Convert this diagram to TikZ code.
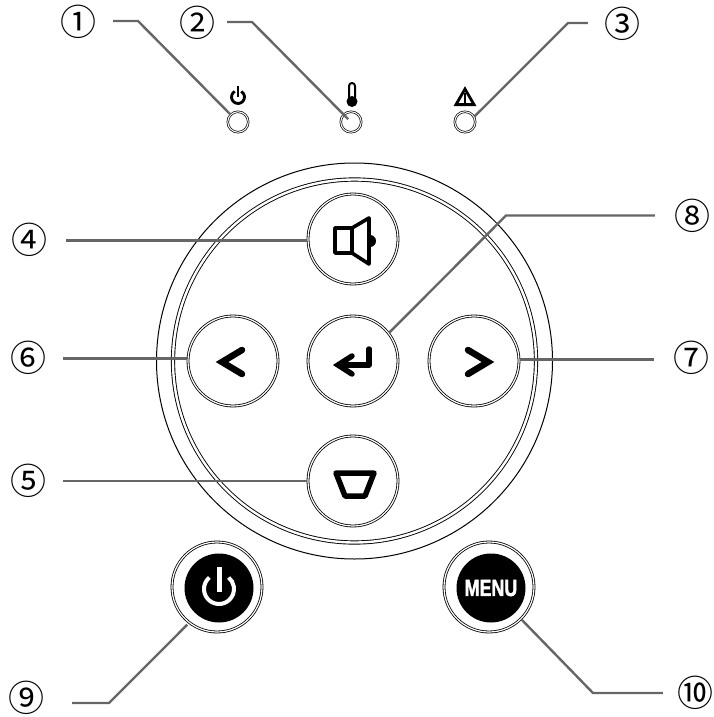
\documentclass[tikz,border=0pt]{standalone}
\usepackage{fontspec}
\setmainfont{Liberation Sans}
\newfontfamily\numfont{Noto Sans CJK JP}
\newfontfamily\menufont[BoldFeatures={FakeBold=2}]{Liberation Sans}
\tikzset{
  leader/.style={draw=black!60,line width=2.4pt},
  numlabel/.style={inner sep=0pt,font=\numfont\fontsize{36}{36}\selectfont},
  btn/.style={circle,draw=black,line width=.8pt,double=white,double distance=1.2pt,minimum size=90pt,inner sep=0pt,outer sep=1pt},
  led/.style={circle,draw=black,line width=.7pt,double=white,double distance=1pt,minimum size=20.5pt,inner sep=0pt,outer sep=.5pt},
  disc/.style={circle,fill=black,minimum size=69pt,inner sep=0pt},
  icon/.style={draw=black,line width=5pt,line join=round,line cap=round},
  chev/.style={draw=black,line width=6.5pt,line join=miter,miter limit=10,line cap=round},
  symb/.style={draw=black,line width=2.8pt}
}
\begin{document}
\begin{tikzpicture}[x=1pt,y=-1pt]
\useasboundingbox (0,0) rectangle (714,717);
% rings
\node[circle,draw=black,line width=1pt,minimum size=396pt,inner sep=0pt] (ringo) at (354.5,361) {};
\node[circle,draw=black,line width=.9pt,double=white,double distance=2.4pt,minimum size=363pt,inner sep=0pt] (ringi) at (354.5,361) {};
% buttons
\node[btn] (b4) at (353,239) {};
\node[btn] (b8) at (353,361) {};
\node[btn] (b6) at (233,361) {};
\node[btn] (b7) at (474,361) {};
\node[btn] (b5) at (353,481) {};
\node[btn] (b9) at (217,587) {};
\node[btn] (b10) at (489,587) {};
\node[disc] (d9) at (219,588) {};
\node[disc,text=white,font=\menufont\bfseries\fontsize{23.5}{24}\selectfont] (d10) at (491,588) {\raisebox{-1.5pt}{\scalebox{.76}[1]{MENU}}};
% leds
\node[led] (led1) at (238,122) {};
\node[led] (led2) at (351,122) {};
\node[led] (led3) at (465,122) {};
% led symbols
\draw[symb,line cap=butt] ([shift={(120:6.5pt)}]238,97) arc[start angle=120,end angle=420,radius=6.5pt];
\draw[symb] (238,85.5) -- (238,97);
\draw[draw=black,line width=2pt,fill=white,line join=round] (349,98) -- (349,86) arc[start angle=180,end angle=0,radius=3pt] -- (355,98) -- cycle;
\fill (352,101.5) circle[radius=5.5pt];
\draw[symb,line join=miter,miter limit=10] (465,89) -- (456,104.6) -- (474,104.6) -- cycle;
\draw[draw=black,line width=1.7pt] (465,92.5) -- (465,104);
% speaker
\draw[icon,line width=3.6pt] (335,228) rectangle (352,253);
\draw[icon,line width=3.6pt] (352,228) -- (369,218) -- (369,264) -- (352,253);
\fill (370,235) arc[start angle=90,end angle=-90,radius=6pt] -- cycle;
% enter
\draw[icon,line width=5.5pt] (369,349) -- (369,365) -- (340,365);
\draw[chev,line width=5.5pt] (352,356) -- (338,365) -- (352,374);
% chevrons
\draw[chev] (242,350) -- (222,362) -- (242,374);
\draw[chev] (468,350) -- (488,362) -- (468,374);
% trapezoid
\draw[icon,line width=5.5pt] (336,473) -- (374,473) -- (365,496) -- (345,496) -- cycle;
% big power
\draw[draw=white,line width=4pt] ([shift={(130:15pt)}]219,589) arc[start angle=130,end angle=410,radius=15pt];
\draw[draw=white,line width=5pt] (219,567) -- (219,592);
% labels
\node[numlabel] (l1) at (78,22) {①};
\node[numlabel] (l2) at (197,23) {②};
\node[numlabel] (l3) at (622,24) {③};
\node[numlabel] (l4) at (30,240) {④};
\node[numlabel] (l5) at (28,481) {⑤};
\node[numlabel] (l6) at (28,358) {⑥};
\node[numlabel] (l7) at (691,358) {⑦};
\node[numlabel] (l8) at (692,216) {⑧};
\node[numlabel] (l9) at (27,698) {⑨};
\node[numlabel] (l10) at (695,693) {⑩};
% elbows
\coordinate (k1) at (138,21);
\coordinate (k2) at (252,22);
\coordinate (k3) at (568,23);
\coordinate (k8) at (506,215.5);
\coordinate (k9) at (109,703);
\coordinate (k10) at (593,693);
% leaders
\draw[leader,shorten <=17pt] (l1.east |- k1) -- (k1) -- (led1.135);
\draw[leader,shorten <=12pt,shorten >=4pt] (l2.east |- k2) -- (k2) -- (led2.center);
\draw[leader,shorten <=16pt] (l3.west |- k3) -- (k3) -- (led3.30);
\draw[leader,shorten <=18pt] (l4.east |- b4.182.5) -- (b4.182.5);
\draw[leader,shorten <=17pt] (l6.east |- b6.177.5) -- (b6.177.5);
\draw[leader,shorten <=17pt] (l5.east |- b5.west) -- (b5.west);
\draw[leader,shorten <=19pt] (l7.west |- b7.2.5) -- (b7.2.5);
\draw[leader,shorten <=19pt] (l8.west |- k8) -- (k8) -- (b8.38);
\draw[leader,shorten <=27pt,shorten >=2pt] (l9.east |- k9) -- (k9) -- (b9.232);
\draw[leader,shorten <=14pt] (l10.west |- k10) -- (k10) -- (b10.-45);
\end{tikzpicture}
\end{document}
